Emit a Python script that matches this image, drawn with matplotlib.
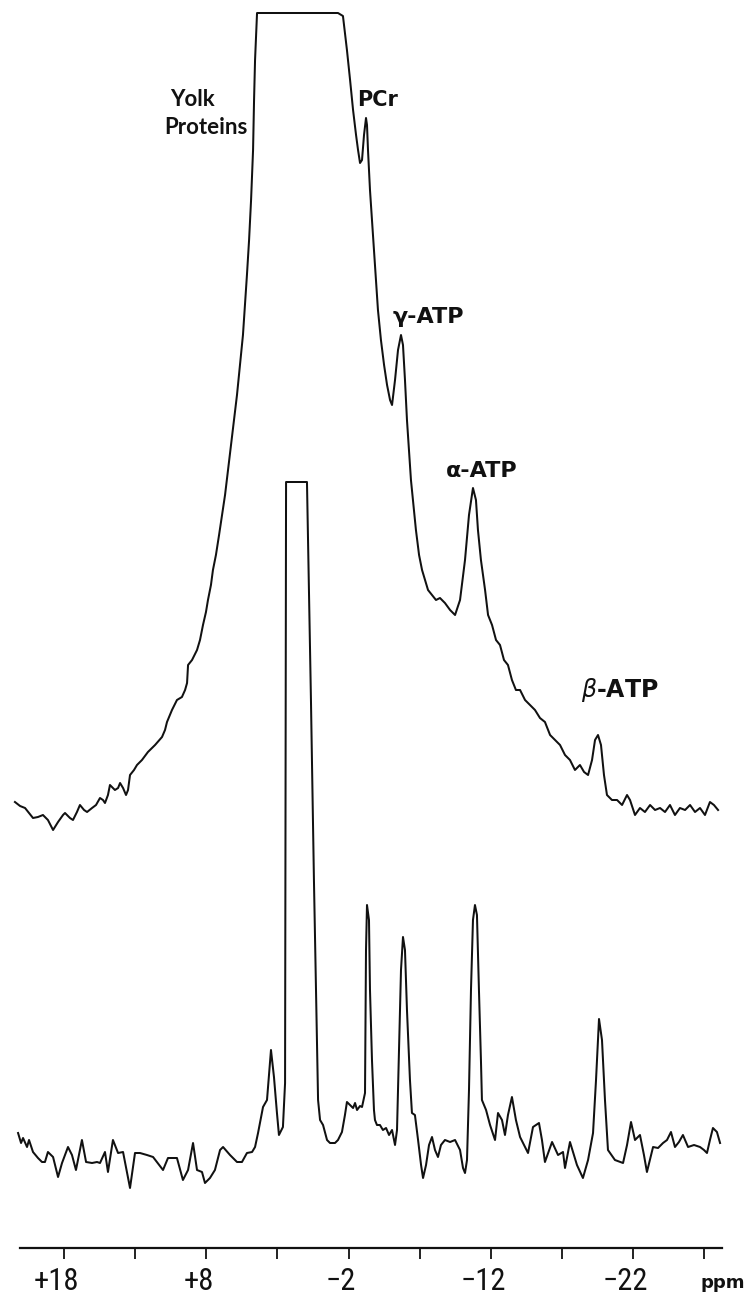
import matplotlib
matplotlib.use("Agg")
import matplotlib.pyplot as plt
from matplotlib import font_manager
import numpy as np

# ---------------- data ----------------
# Upper trace: in-vivo 31P spectrum (chemical shift, ppm ; intensity, arbitrary units)
upper_ppm = [21.45, 21.09, 20.74, 20.18, 19.83, 19.48, 19.13, 18.77, 18.42, 18.07,
             17.93, 17.58, 17.37, 17.09, 16.88, 16.59, 16.38, 16.03, 15.75, 15.47,
             15.26, 15.12, 14.91, 14.77, 14.56, 14.42, 14.20, 14.06, 13.85, 13.64,
             13.50, 13.36, 13.08, 12.87, 12.52, 12.10, 11.60, 11.11, 10.90, 10.76,
             10.41, 10.06, 9.71, 9.49, 9.35, 9.28, 9.00, 8.65, 8.44, 8.23,
             8.02, 7.88, 7.67, 7.53, 7.32, 7.10, 6.89, 6.68, 6.47, 6.26,
             6.05, 5.84, 5.63, 5.42, 5.28, 5.14, 4.99, 4.85, 4.71, 4.64,
             4.57, 4.43, -1.26, -1.61, -1.89, -2.11, -2.32, -2.53, -2.67, -2.81,
             -2.95, -3.09, -3.23, -3.30, -3.37, -3.51, -3.65, -3.79, -3.93, -4.07,
             -4.28, -4.50, -4.71, -4.92, -5.06, -5.27, -5.48, -5.69, -5.83, -5.97,
             -6.11, -6.25, -6.39, -6.53, -6.74, -6.96, -7.17, -7.38, -7.59, -7.87,
             -8.15, -8.43, -8.78, -9.14, -9.49, -9.84, -10.19, -10.47, -10.75, -10.96,
             -11.10, -11.31, -11.60, -11.81, -12.09, -12.37, -12.65, -12.93, -13.21, -13.49,
             -13.77, -14.06, -14.41, -14.76, -15.11, -15.46, -15.81, -16.17, -16.52, -16.87,
             -17.22, -17.57, -17.92, -18.27, -18.56, -18.84, -19.12, -19.33, -19.54, -19.75,
             -19.96, -20.17, -20.52, -20.88, -21.23, -21.58, -21.79, -22.14, -22.49, -22.84,
             -23.20, -23.55, -23.90, -24.25, -24.60, -24.95, -25.30, -25.66, -26.01, -26.36,
             -26.71, -27.06, -27.41, -27.69, -27.98]
upper_int = [8, 4, 2, -8, -7, -5, -10, -20, -12, -5,
             -3, -8, -10, -2, 5, 0, -2, 2, 5, 12,
             10, 7, 15, 25, 22, 20, 22, 27, 22, 15,
             20, 35, 40, 45, 50, 58, 65, 73, 80, 88,
             100, 110, 113, 120, 127, 145, 150, 160, 170, 185,
             198, 210, 225, 240, 255, 275, 295, 315, 340, 365,
             390, 415, 445, 475, 505, 535, 570, 610, 660, 710,
             750, 797, 797, 794, 760, 730, 700, 675, 660, 647,
             650, 675, 692, 685, 660, 620, 590, 560, 530, 500,
             470, 445, 425, 410, 405, 430, 460, 475, 465, 430,
             390, 360, 330, 310, 280, 255, 240, 230, 220, 215,
             210, 212, 207, 200, 195, 210, 250, 295, 322, 310,
             280, 250, 220, 195, 185, 170, 165, 150, 145, 130,
             120, 120, 110, 105, 100, 92, 88, 75, 70, 65,
             55, 50, 40, 45, 38, 35, 50, 70, 75, 65,
             35, 15, 10, 10, 5, 15, 10, -5, 2, -2,
             5, 0, 2, -2, 5, -5, 2, 0, 5, -2,
             2, -5, 8, 5, 0]

# Lower trace: resolution-enhanced spectrum
lower_ppm = [21.23, 21.02, 20.88, 20.60, 20.46, 20.18, 19.83, 19.55, 19.34, 19.13,
             18.77, 18.42, 18.14, 17.72, 17.44, 17.16, 16.74, 16.45, 16.03, 15.68,
             15.47, 15.12, 14.91, 14.56, 14.20, 13.85, 13.36, 13.01, 12.66, 12.17,
             11.74, 11.04, 10.69, 10.06, 9.64, 9.28, 8.93, 8.65, 8.30, 8.09,
             7.74, 7.39, 7.03, 6.82, 6.33, 5.84, 5.49, 5.14, 4.78, 4.57,
             4.36, 4.01, 3.73, 3.45, 3.24, 3.03, 2.89, 2.61, 2.46, 2.39,
             0.92, 0.64, 0.43, 0.14, 0.00, -0.21, -0.49, -0.70, -1.05, -1.26,
             -1.54, -1.75, -1.89, -2.11, -2.32, -2.46, -2.60, -2.81, -2.95, -3.09,
             -3.16, -3.23, -3.30, -3.44, -3.51, -3.65, -3.79, -3.86, -4.00, -4.21,
             -4.42, -4.64, -4.85, -5.06, -5.27, -5.41, -5.55, -5.69, -5.83, -5.97,
             -6.11, -6.32, -6.46, -6.67, -6.89, -7.10, -7.24, -7.45, -7.66, -7.87,
             -8.08, -8.29, -8.50, -8.78, -9.14, -9.49, -9.84, -10.05, -10.19, -10.33,
             -10.47, -10.61, -10.75, -10.89, -11.03, -11.17, -11.31, -11.38, -11.67, -11.95,
             -12.30, -12.51, -12.79, -13.00, -13.21, -13.49, -13.77, -14.06, -14.34, -14.62,
             -14.97, -15.39, -15.60, -15.81, -16.31, -16.73, -17.08, -17.22, -17.57, -18.06,
             -18.48, -18.84, -19.19, -19.40, -19.61, -19.82, -20.03, -20.24, -20.73, -21.30,
             -21.58, -21.86, -22.14, -22.49, -22.77, -22.98, -23.41, -23.76, -24.11, -24.39,
             -24.67, -24.95, -25.23, -25.51, -25.87, -26.29, -26.71, -26.99, -27.20, -27.41,
             -27.62, -27.90, -28.12]
lower_int = [17, 7, 12, 3, 10, -2, -8, -12, -12, -2,
             -7, -27, -13, 3, -5, -20, 10, -12, -13, -12,
             -13, -2, -22, 10, -3, -2, -38, -3, -3, -5,
             -7, -20, -8, -8, -30, -20, 7, -20, -22, -33,
             -28, -20, 0, 3, -5, -12, -12, -3, -2, 3,
             17, 43, 50, 100, 73, 37, 15, 23, 67, 668,
             668, 450, 270, 50, 30, 25, 10, 7, 7, 10,
             18, 35, 48, 45, 42, 47, 40, 44, 43, 52,
             57, 200, 245, 230, 160, 90, 40, 30, 25, 25,
             20, 22, 15, 20, 5, 20, 100, 180, 213, 200,
             140, 70, 37, 35, 10, -15, -28, -15, 5, 13,
             0, -7, 5, 10, 8, 10, 0, -18, -23, -10,
             60, 160, 230, 245, 235, 160, 90, 50, 40, 25,
             10, 37, 30, 15, 35, 53, 30, 13, 5, -3,
             23, 27, 10, -12, 8, -5, -2, -18, 8, -15,
             -28, -10, 17, 70, 131, 110, 50, 0, -10, -13,
             5, 28, 10, 15, -5, -22, 3, 2, 7, 10,
             18, 3, 8, 15, 3, 5, 3, 0, -3, 10,
             22, 18, 7]

peak_labels = ["Yolk", "Proteins", "PCr", "γ-ATP", "α-ATP", r"$\beta$-ATP"]
major_ticks = [18, 8, -2, -12, -22]
major_signs = ["+", "+", "\u2212", "\u2212", "\u2212"]
major_digits = ["18", "8", "2", "12", "22"]
minor_ticks = [13, 3, -7, -17, -27]

# ---------------- figure ----------------
W, H = 756, 1300
PX = 0.0703  # ppm per pixel
fig = plt.figure(figsize=(W / 100, H / 100), dpi=100)
fig.patch.set_facecolor("white")
plt.rcParams["mathtext.fontset"] = "dejavusans"

ax = fig.add_axes([0, 0, 1, 1])
ax.set_xlim(22.50, 22.50 - PX * W)
ax.set_ylim(0, H)
ax.axis("off")

upper_offset = 490
lower_offset = 150
ink = "#111111"
ax.plot(upper_ppm, np.asarray(upper_int) + upper_offset, color=ink, lw=1.45,
        solid_joinstyle="round")
ax.plot(lower_ppm, np.asarray(lower_int) + lower_offset, color=ink, lw=1.45,
        solid_joinstyle="round")

yolk_kw = dict(ha="center", va="center", color=ink, fontweight="bold",
               family=["Lato", "DejaVu Sans"], fontsize=16)
cap_kw = dict(ha="center", va="center", color=ink, fontweight="bold",
              family=["DejaVu Sans"], fontsize=16)
ax.text(9.0, 1200, peak_labels[0], **yolk_kw)
ax.text(8.0, 1172, peak_labels[1], **yolk_kw)
ax.text(-4.07, 1200, peak_labels[2], **dict(cap_kw, fontsize=15))
ax.text(-7.59, 983, peak_labels[3], **cap_kw)
ax.text(-11.38, 829, peak_labels[4], **cap_kw)
ax.text(-21.09, 610, peak_labels[5], **dict(cap_kw, fontsize=17))

# ---------------- ppm axis ----------------
x0, x1 = 20, 722
axx = fig.add_axes([x0 / W, (H - 1248) / H, (x1 - x0) / W, 0.001])
axx.set_xlim(22.50 - PX * x0, 22.50 - PX * x1)
axx.set_ylim(0, 1)
for s in ["top", "left", "right"]:
    axx.spines[s].set_visible(False)
axx.spines["bottom"].set_linewidth(1.6)
axx.spines["bottom"].set_color(ink)
axx.patch.set_alpha(0)
axx.set_yticks([])
axx.set_xticks(major_ticks)
axx.set_xticklabels([])
axx.set_xticks(minor_ticks, minor=True)
axx.tick_params(axis="x", which="both", direction="out", length=8, width=1.3,
                color=ink)

names = {f.name for f in font_manager.fontManager.ttflist}
if "Liberation Sans Narrow" in names:
    num_family, num_size, dig_w = ["Liberation Sans Narrow", "DejaVu Sans"], 21, 13.5
elif "Roboto Condensed" in names:
    num_family, num_size, dig_w = ["Roboto Condensed", "DejaVu Sans"], 22, 15.0
else:
    num_family, num_size, dig_w = ["Roboto", "DejaVu Sans"], 22, 17.0

for tk, sg, dg in zip(major_ticks, major_signs, major_digits):
    right = tk - (len(dg) * dig_w / 2) * PX
    ax.text(right, 19, sg + dg, ha="right", va="center", fontsize=num_size,
            family=num_family, color=ink)

ax.text(22.50 - PX * 723, 17, "ppm", ha="center", va="center",
        fontsize=13, fontweight="bold", color=ink, family=["DejaVu Sans"])

fig.savefig("out.png", dpi=100, facecolor="white")
